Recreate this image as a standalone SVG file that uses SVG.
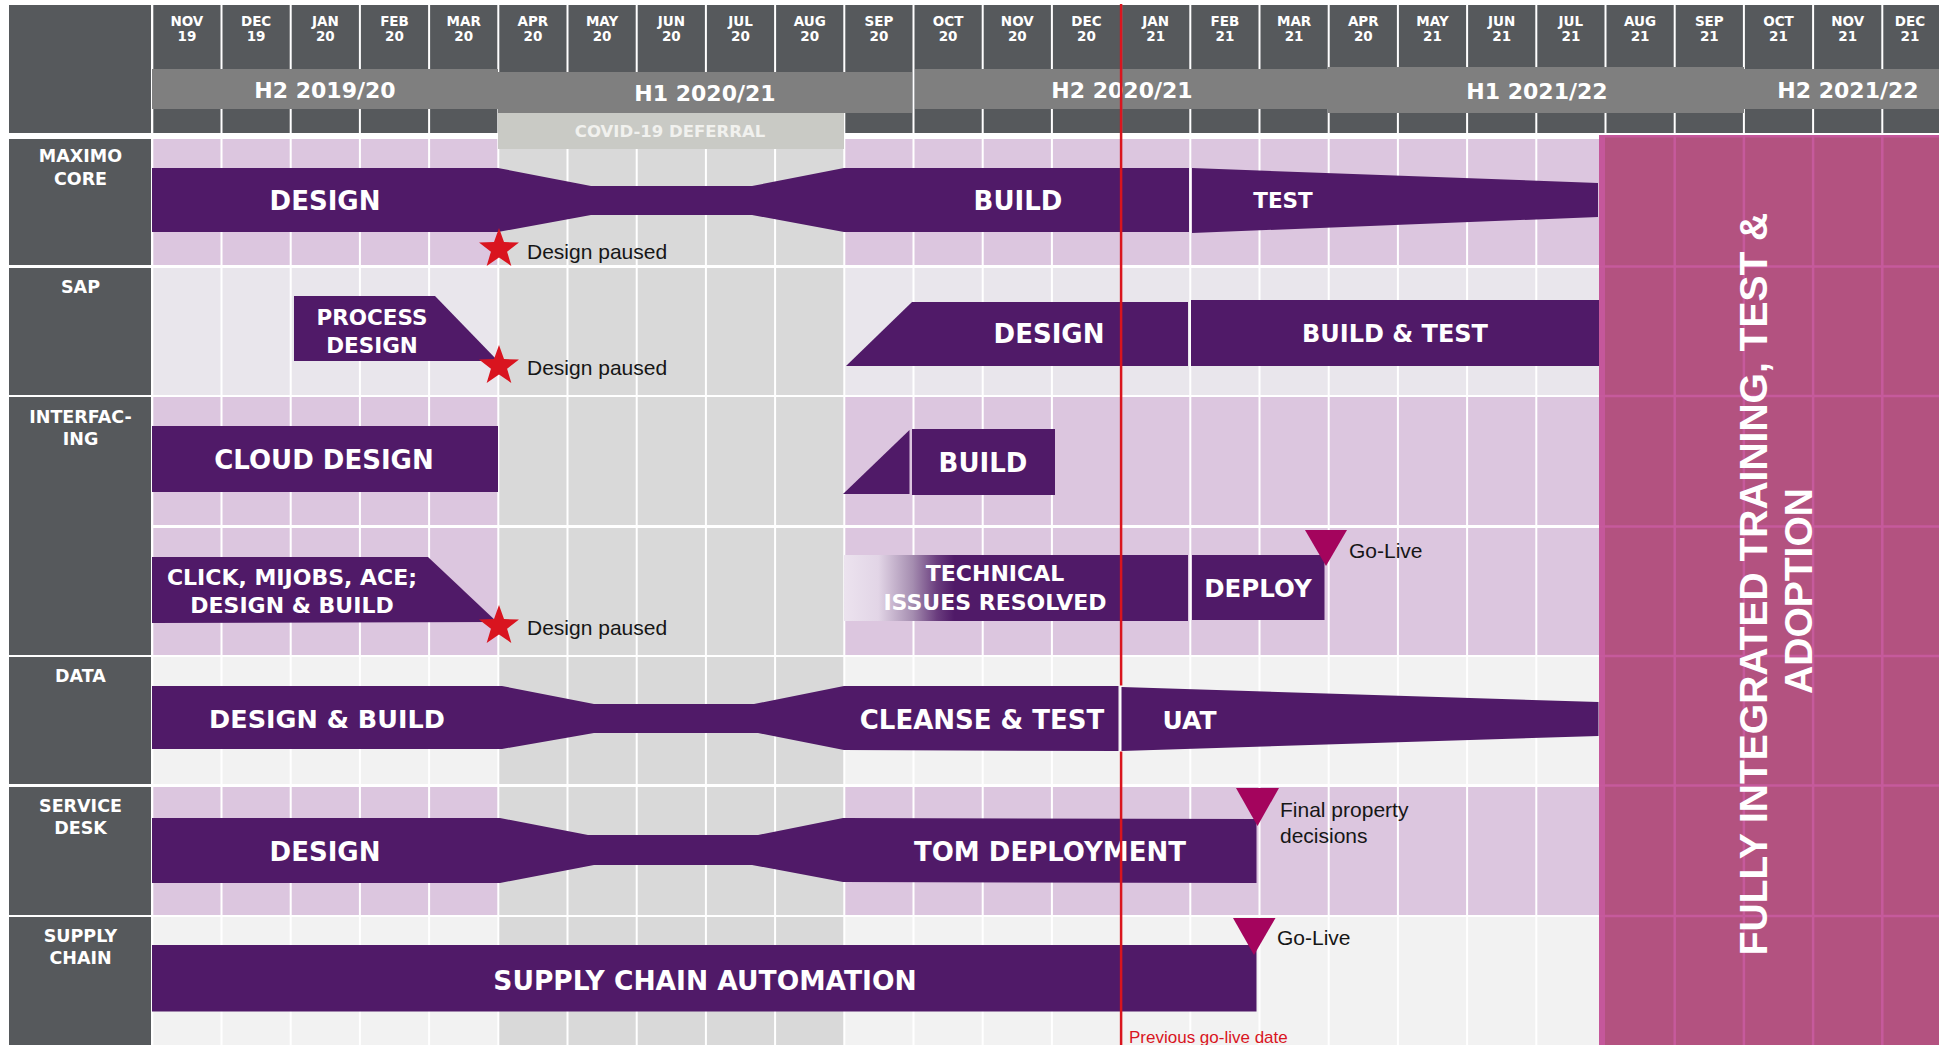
<svg xmlns="http://www.w3.org/2000/svg" width="1939" height="1045" viewBox="0 0 1939 1045">
<style>
.hd{fill:#56595c}
.mt{font-family:"DejaVu Sans",sans-serif;font-weight:bold;font-size:13.5px;fill:#fff;text-anchor:middle;dominant-baseline:central}
.hb{fill:#7f7f7f}
.ht{font-family:"DejaVu Sans",sans-serif;font-weight:bold;font-size:22px;fill:#fff;text-anchor:middle;dominant-baseline:central}
.rt{font-family:"DejaVu Sans",sans-serif;font-weight:bold;font-size:17.5px;fill:#fff;text-anchor:middle;dominant-baseline:central}
.lav{fill:#dcc6df}.sap{fill:#e9e6ec}.lg{fill:#f2f2f2}.cov{fill:#d9d9d9}
.gl{stroke:#fff;stroke-width:2;fill:none}
.bar{fill:#501a68}
.bt{font-family:"DejaVu Sans",sans-serif;font-weight:bold;font-size:26px;fill:#fff;text-anchor:middle;dominant-baseline:central}
.bs{font-size:22px}
.an{font-family:"Liberation Sans",Arial,sans-serif;font-size:21px;fill:#161616;dominant-baseline:central}
.ms{fill:#a4045d}
.st{fill:#d9141f}
.mg{stroke:#c65a9c;stroke-width:2.5;fill:none}
</style>
<defs>
<polygon id="star" points="0,-21 5,-6.88 19.97,-6.49 8.08,2.63 12.34,16.99 0,8.5 -12.34,16.99 -8.08,2.63 -19.97,-6.49 -5,-6.88"/>
<linearGradient id="techgrad" x1="0" y1="0" x2="1" y2="0">
<stop offset="0" stop-color="#ece3ef"/>
<stop offset="0.1" stop-color="#e2d5e6"/>
<stop offset="0.2" stop-color="#a58db0"/>
<stop offset="0.27" stop-color="#6a3d7e"/>
<stop offset="0.32" stop-color="#501a68"/>
<stop offset="1" stop-color="#501a68"/>
</linearGradient>
</defs>
<rect x="0" y="0" width="1939" height="1045" fill="#fff"/>

<g id="header">
<rect class="hd" x="9" y="5" width="142" height="128"/>
<g id="month-cells">
<rect class="hd" x="153.3" y="5" width="67.2" height="128"/>
<rect class="hd" x="222.5" y="5" width="67.2" height="128"/>
<rect class="hd" x="291.7" y="5" width="67.2" height="128"/>
<rect class="hd" x="360.9" y="5" width="67.2" height="128"/>
<rect class="hd" x="430.1" y="5" width="67.2" height="128"/>
<rect class="hd" x="499.3" y="5" width="67.2" height="128"/>
<rect class="hd" x="568.5" y="5" width="67.2" height="128"/>
<rect class="hd" x="637.7" y="5" width="67.2" height="128"/>
<rect class="hd" x="706.9" y="5" width="67.2" height="128"/>
<rect class="hd" x="776.1" y="5" width="67.2" height="128"/>
<rect class="hd" x="845.3" y="5" width="67.2" height="128"/>
<rect class="hd" x="914.5" y="5" width="67.2" height="128"/>
<rect class="hd" x="983.7" y="5" width="67.2" height="128"/>
<rect class="hd" x="1052.9" y="5" width="67.2" height="128"/>
<rect class="hd" x="1122.1" y="5" width="67.2" height="128"/>
<rect class="hd" x="1191.3" y="5" width="67.2" height="128"/>
<rect class="hd" x="1260.5" y="5" width="67.2" height="128"/>
<rect class="hd" x="1329.7" y="5" width="67.2" height="128"/>
<rect class="hd" x="1398.9" y="5" width="67.2" height="128"/>
<rect class="hd" x="1468.1" y="5" width="67.2" height="128"/>
<rect class="hd" x="1537.3" y="5" width="67.2" height="128"/>
<rect class="hd" x="1606.5" y="5" width="67.2" height="128"/>
<rect class="hd" x="1675.7" y="5" width="67.2" height="128"/>
<rect class="hd" x="1744.9" y="5" width="67.2" height="128"/>
<rect class="hd" x="1814.1" y="5" width="67.2" height="128"/>
<rect class="hd" x="1883.3" y="5" width="56" height="128"/>
</g>
<g id="month-labels">
<text class="mt" x="186.9" y="21">NOV<tspan x="186.9" y="35.5">19</tspan></text>
<text class="mt" x="256.1" y="21">DEC<tspan x="256.1" y="35.5">19</tspan></text>
<text class="mt" x="325.3" y="21">JAN<tspan x="325.3" y="35.5">20</tspan></text>
<text class="mt" x="394.5" y="21">FEB<tspan x="394.5" y="35.5">20</tspan></text>
<text class="mt" x="463.7" y="21">MAR<tspan x="463.7" y="35.5">20</tspan></text>
<text class="mt" x="532.9" y="21">APR<tspan x="532.9" y="35.5">20</tspan></text>
<text class="mt" x="602.1" y="21">MAY<tspan x="602.1" y="35.5">20</tspan></text>
<text class="mt" x="671.3" y="21">JUN<tspan x="671.3" y="35.5">20</tspan></text>
<text class="mt" x="740.5" y="21">JUL<tspan x="740.5" y="35.5">20</tspan></text>
<text class="mt" x="809.7" y="21">AUG<tspan x="809.7" y="35.5">20</tspan></text>
<text class="mt" x="878.9" y="21">SEP<tspan x="878.9" y="35.5">20</tspan></text>
<text class="mt" x="948.1" y="21">OCT<tspan x="948.1" y="35.5">20</tspan></text>
<text class="mt" x="1017.3" y="21">NOV<tspan x="1017.3" y="35.5">20</tspan></text>
<text class="mt" x="1086.5" y="21">DEC<tspan x="1086.5" y="35.5">20</tspan></text>
<text class="mt" x="1155.7" y="21">JAN<tspan x="1155.7" y="35.5">21</tspan></text>
<text class="mt" x="1224.9" y="21">FEB<tspan x="1224.9" y="35.5">21</tspan></text>
<text class="mt" x="1294.1" y="21">MAR<tspan x="1294.1" y="35.5">21</tspan></text>
<text class="mt" x="1363.3" y="21">APR<tspan x="1363.3" y="35.5">20</tspan></text>
<text class="mt" x="1432.5" y="21">MAY<tspan x="1432.5" y="35.5">21</tspan></text>
<text class="mt" x="1501.7" y="21">JUN<tspan x="1501.7" y="35.5">21</tspan></text>
<text class="mt" x="1570.9" y="21">JUL<tspan x="1570.9" y="35.5">21</tspan></text>
<text class="mt" x="1640.1" y="21">AUG<tspan x="1640.1" y="35.5">21</tspan></text>
<text class="mt" x="1709.3" y="21">SEP<tspan x="1709.3" y="35.5">21</tspan></text>
<text class="mt" x="1778.5" y="21">OCT<tspan x="1778.5" y="35.5">21</tspan></text>
<text class="mt" x="1847.7" y="21">NOV<tspan x="1847.7" y="35.5">21</tspan></text>
<text class="mt" x="1910" y="21">DEC<tspan x="1910" y="35.5">21</tspan></text>
</g>
<g id="half-years">
<rect class="hb" x="152" y="69" width="346" height="40"/>
<rect class="hb" x="498" y="72" width="414" height="41"/>
<rect class="hb" x="915" y="69" width="413" height="40"/>
<rect class="hb" x="1328" y="67" width="416" height="46"/>
<rect class="hb" x="1744" y="69" width="195" height="40"/>
<text class="ht" x="325" y="90">H2 2019/20</text>
<text class="ht" x="705" y="93">H1 2020/21</text>
<text class="ht" x="1122" y="90">H2 2020/21</text>
<text class="ht" x="1537" y="91">H1 2021/22</text>
<text class="ht" x="1848" y="90">H2 2021/22</text>
</g>
</g>

<g id="grid">
<rect class="lav" x="152" y="139" width="1787" height="126"/>
<rect class="sap" x="152" y="268" width="1787" height="127"/>
<rect class="lav" x="152" y="397" width="1787" height="128"/>
<rect class="lav" x="152" y="528" width="1787" height="127"/>
<rect class="lg" x="152" y="657" width="1787" height="127"/>
<rect class="lav" x="152" y="787" width="1787" height="128"/>
<rect class="lg" x="152" y="917" width="1787" height="128"/>
<rect class="cov" x="498.3" y="139" width="346" height="126"/>
<rect class="cov" x="498.3" y="268" width="346" height="127"/>
<rect class="cov" x="498.3" y="397" width="346" height="128"/>
<rect class="cov" x="498.3" y="528" width="346" height="127"/>
<rect class="cov" x="498.3" y="657" width="346" height="127"/>
<rect class="cov" x="498.3" y="787" width="346" height="128"/>
<rect class="cov" x="498.3" y="917" width="346" height="128"/>
<path class="gl" d="M152.3 139V1045M221.5 139V1045M290.7 139V1045M359.9 139V1045M429.1 139V1045M498.3 139V1045M567.5 139V1045M636.7 139V1045M705.9 139V1045M775.1 139V1045M844.3 139V1045M913.5 139V1045M982.7 139V1045M1051.9 139V1045M1121.1 139V1045M1190.3 139V1045M1259.5 139V1045M1328.7 139V1045M1397.9 139V1045M1467.1 139V1045M1536.3 139V1045M1605.5 139V1045M1674.7 139V1045M1743.9 139V1045M1813.1 139V1045M1882.3 139V1045"/>
</g>

<g id="covid-deferral">
<rect x="498" y="113" width="346" height="36" fill="#c9cac5"/>
<text x="670" y="131.5" font-family="DejaVu Sans, sans-serif" font-weight="bold" font-size="16.5" fill="#f1f1ee" text-anchor="middle" dominant-baseline="central">COVID-19 DEFERRAL</text>
</g>

<g id="row-labels">
<rect class="hd" x="9" y="139" width="142" height="126"/>
<rect class="hd" x="9" y="268" width="142" height="127"/>
<rect class="hd" x="9" y="397" width="142" height="258"/>
<rect class="hd" x="9" y="657" width="142" height="127"/>
<rect class="hd" x="9" y="787" width="142" height="128"/>
<rect class="hd" x="9" y="917" width="142" height="128"/>
<text class="rt" x="80.5" y="156">MAXIMO<tspan x="80.5" y="179">CORE</tspan></text>
<text class="rt" x="80.5" y="287">SAP</text>
<text class="rt" x="80.5" y="417">INTERFAC-<tspan x="80.5" y="439">ING</tspan></text>
<text class="rt" x="80.5" y="676">DATA</text>
<text class="rt" x="80.5" y="806">SERVICE<tspan x="80.5" y="828">DESK</tspan></text>
<text class="rt" x="80.5" y="936">SUPPLY<tspan x="80.5" y="958">CHAIN</tspan></text>
</g>

<g id="maximo-core">
<g id="maximo-design-build">
<polygon class="bar" points="152,168 498,168 591,186 752,186 844,168 1189,168 1189,232 844,232 752,215 591,215 498,232 152,232"/>
<text class="bt" x="325" y="201">DESIGN</text>
<text class="bt" x="1018" y="201">BUILD</text>
</g>
<g id="maximo-test">
<polygon class="bar" points="1192,168 1598,183 1598,217 1192,233"/>
<text class="bt" x="1283" y="200" style="font-size:21.5px">TEST</text>
</g>
<g id="maximo-paused">
<use href="#star" class="st" x="499" y="249"/>
<text class="an" x="527" y="251">Design paused</text>
</g>
</g>

<g id="sap">
<g id="sap-process-design">
<polygon class="bar" points="294,296 435,296 498,361 294,361"/>
<text class="bt" x="372" y="317" style="font-size:21.5px">PROCESS<tspan x="372" y="345">DESIGN</tspan></text>
</g>
<g id="sap-paused">
<use href="#star" class="st" x="499" y="366"/>
<text class="an" x="527" y="367">Design paused</text>
</g>
<g id="sap-design">
<polygon class="bar" points="846,366 912,302 1188,302 1188,366"/>
<text class="bt" x="1049" y="334">DESIGN</text>
</g>
<g id="sap-build-test">
<rect class="bar" x="1191" y="300" width="409" height="66"/>
<text class="bt" x="1395" y="334" style="font-size:24px">BUILD &amp; TEST</text>
</g>
</g>

<g id="interfacing">
<g id="int-cloud-design">
<rect class="bar" x="152" y="426" width="346" height="66"/>
<text class="bt" x="324" y="460">CLOUD DESIGN</text>
</g>
<g id="int-build">
<polygon class="bar" points="843,494 909.5,430 909.5,494"/>
<rect class="bar" x="912" y="429" width="143" height="66"/>
<text class="bt" x="983" y="463">BUILD</text>
</g>
<g id="int-click">
<polygon class="bar" points="152,557 428,557 497,622 152,623"/>
<text class="bt bs" x="292" y="577">CLICK, MIJOBS, ACE;<tspan x="292" y="605">DESIGN &amp; BUILD</tspan></text>
</g>
<g id="int-paused">
<use href="#star" class="st" x="499" y="626"/>
<text class="an" x="527" y="627">Design paused</text>
</g>
<g id="int-technical">
<rect x="844" y="555" width="344" height="66" fill="url(#techgrad)"/>
<text class="bt bs" x="995" y="573">TECHNICAL<tspan x="995" y="602">ISSUES RESOLVED</tspan></text>
</g>
<g id="int-deploy">
<rect class="bar" x="1192" y="555" width="132.5" height="65"/>
<text class="bt" x="1258" y="588" style="font-size:24.5px">DEPLOY</text>
</g>
<g id="int-golive">
<polygon class="ms" points="1305,530 1347,530 1326,566"/>
<text class="an" x="1349" y="550">Go-Live</text>
</g>
</g>

<g id="data">
<g id="data-design-cleanse">
<polygon class="bar" points="152,686 502,686 594,704 754,704 844,686 1118.5,686 1118.5,751 844,750 758,733 594,733 502,749 152,749"/>
<text class="bt" x="327" y="719" style="font-size:25.5px">DESIGN &amp; BUILD</text>
<text class="bt" x="982" y="720">CLEANSE &amp; TEST</text>
</g>
<g id="data-uat">
<polygon class="bar" points="1121.5,687 1598.5,702 1598.5,736 1121.5,751"/>
<text class="bt" x="1189.5" y="720" style="font-size:25px">UAT</text>
</g>
</g>

<g id="service-desk">
<g id="sd-design-tom">
<polygon class="bar" points="152,818 500,818 588,835 758,835 843,818 1256.5,819 1256.5,883 843,882 752,865 594,865 500,883 152,883"/>
<text class="bt" x="325" y="852">DESIGN</text>
<text class="bt" x="1050" y="852">TOM DEPLOYMENT</text>
</g>
<g id="sd-final">
<polygon class="ms" points="1236,788 1279,788 1257.5,826"/>
<text class="an" x="1280" y="809">Final property<tspan x="1280" y="835">decisions</tspan></text>
</g>
</g>

<g id="supply-chain">
<g id="sc-automation">
<rect class="bar" x="152" y="945" width="1104.5" height="66.5"/>
<text class="bt" x="705" y="980" style="font-size:26.5px">SUPPLY CHAIN AUTOMATION</text>
</g>
<g id="sc-golive">
<polygon class="ms" points="1233,918 1275.5,918 1254,955"/>
<text class="an" x="1277" y="937">Go-Live</text>
</g>
</g>

<g id="integration-phase">
<rect x="1599" y="135" width="340" height="910" fill="#b35280"/>
<rect x="1599" y="135" width="6" height="910" fill="#c5579b"/>
<rect x="1599" y="135" width="340" height="2.5" fill="#c5579b"/>
<path class="mg" d="M1674.7 135V1045M1743.9 135V1045M1813.1 135V1045M1882.3 135V1045M1599 266.5H1939M1599 396H1939M1599 526.5H1939M1599 656H1939M1599 785.5H1939M1599 916H1939"/>
<text transform="translate(1753,584) rotate(-90)" font-family="Liberation Sans, Arial, sans-serif" font-weight="bold" font-size="39" fill="#fff" text-anchor="middle" dominant-baseline="central">FULLY INTEGRATED TRAINING, TEST &amp;</text>
<text transform="translate(1798,591) rotate(-90)" font-family="Liberation Sans, Arial, sans-serif" font-weight="bold" font-size="39" fill="#fff" text-anchor="middle" dominant-baseline="central">ADOPTION</text>
</g>

<g id="connectors">
<g id="previous-go-live">
<path d="M1121.1 4V685.5M1121.1 751.5V1045" stroke="#d9151e" stroke-width="2.5" fill="none"/>
<text x="1129" y="1043" font-family="Liberation Sans, Arial, sans-serif" font-size="17" fill="#d9151e">Previous go-live date</text>
</g>
</g>
</svg>
